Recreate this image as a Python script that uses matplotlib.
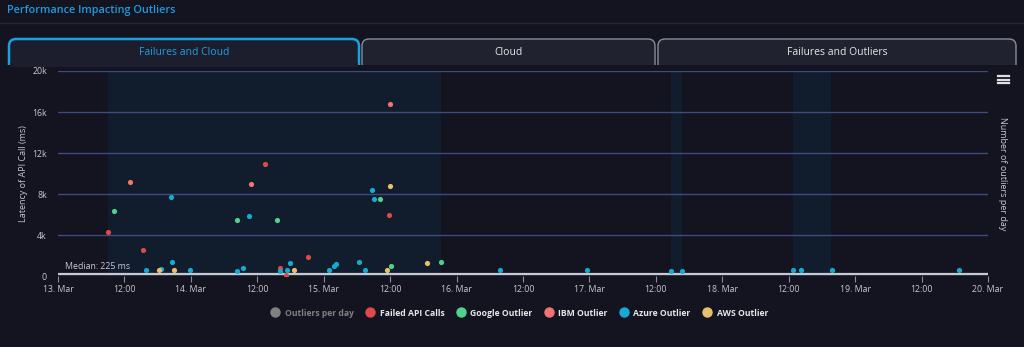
import matplotlib
matplotlib.use("Agg")
import matplotlib.pyplot as plt
import matplotlib.dates as mdates
from matplotlib.patches import FancyBboxPatch
from matplotlib.lines import Line2D
import pandas as pd

plt.rcParams['font.family'] = ['Open Sans', 'DejaVu Sans']

# outlier data (time, latency in ms)
failed_t = ["03-13 09:00", "03-13 15:23", "03-14 13:19", "03-14 16:09", "03-14 17:10",
            "03-14 21:13", "03-15 11:44"]
failed_v = [4290, 2570, 10930, 850, 100, 1880, 6020]

google_t = ["03-13 10:05", "03-14 08:23", "03-14 15:33", "03-15 10:06", "03-15 12:06",
            "03-15 21:16"]
google_v = [6340, 5440, 5500, 7550, 1040, 1370]

ibm_t = ["03-13 13:03", "03-14 10:51", "03-15 11:59"]
ibm_v = [9200, 8950, 16760]

azure_t = ["03-13 15:59", "03-13 18:39", "03-13 20:27", "03-13 20:41", "03-13 23:46",
           "03-14 08:23", "03-14 09:27", "03-14 10:29", "03-14 16:02", "03-14 17:17",
           "03-14 17:53", "03-15 00:53", "03-15 01:55", "03-15 02:17", "03-15 06:19",
           "03-15 07:26", "03-15 08:47", "03-15 09:01", "03-16 07:51", "03-16 23:34",
           "03-17 14:48", "03-17 16:41", "03-18 12:48", "03-18 14:11", "03-18 19:44",
           "03-19 18:45"]
azure_v = [650, 710, 7680, 1430, 590, 520, 780, 5890, 520, 650,
           1300, 650, 1040, 1170, 1370, 590, 8360, 7550, 615, 650,
           490, 560, 590, 590, 650, 590]

aws_t = ["03-13 18:20", "03-13 20:56", "03-14 18:37", "03-15 11:23", "03-15 11:54",
         "03-15 18:36"]
aws_v = [650, 650, 590, 650, 8780, 1300]

band_start = ["03-13 09:00", "03-17 14:40", "03-18 12:50"]
band_end = ["03-15 21:16", "03-17 16:40", "03-18 19:40"]

median_ms = 225
year = "2023-"

def ts(lst):
    return pd.to_datetime([year + s for s in lst])

bg = "#13141f"
fig = plt.figure(figsize=(10.24, 3.47), dpi=100, facecolor=bg)

# decoration layer in pixel coords
deco = fig.add_axes([0, 0, 1, 1])
deco.set_xlim(0, 1024)
deco.set_ylim(347, 0)
deco.axis("off")
deco.set_facecolor(bg)

deco.text(7, 10, "Performance Impacting Outliers", color="#1e9be0", fontsize=7.8,
          fontweight="semibold", va="center", ha="left")
deco.plot([0, 1024], [22.5, 22.5], color="#242636", lw=1)

tabs = [("Failures and Cloud", 8, 360, True),
        ("Cloud", 361, 656, False),
        ("Failures and Outliers", 657, 1017, False)]
for label, x0, x1, active in tabs:
    ec = "#1ba1e2" if active else "#8a8c98"
    fc = "#1c1e2d" if active else "#20222f"
    p = FancyBboxPatch((x0 + 1, 39), x1 - x0 - 2, 34,
                       boxstyle="round,pad=0,rounding_size=7",
                       fc=fc, ec=ec, lw=1.8 if active else 1.0, zorder=1)
    deco.add_patch(p)
    deco.text((x0 + x1) / 2, 52, label, color="#1ba1e2" if active else "#e6e6ea",
              fontsize=7.5, ha="center", va="center", zorder=3)
# cover bottom of the tabs
deco.add_patch(plt.Rectangle((0, 65), 1024, 282, fc=bg, ec="none", zorder=2))
deco.add_patch(plt.Rectangle((10, 63), 348, 4, fc="#1c1e2d", ec="none", zorder=2))

# hamburger icon
for yy in (76, 79.5, 83):
    deco.plot([998, 1009], [yy, yy], color="#e0e0e0", lw=1.6, zorder=3)

# main plot
ax = fig.add_axes([58 / 1024, (347 - 276.3) / 347, 930 / 1024, 205.3 / 347])
ax.set_facecolor(bg)
ax.set_xlim(pd.Timestamp(year + "03-13"), pd.Timestamp(year + "03-20"))
ax.set_ylim(0, 20000)

for s, e in zip(ts(band_start), ts(band_end)):
    ax.axvspan(s, e, color="#111d2d", lw=0, zorder=0)

ax.set_yticks([0, 4000, 8000, 12000, 16000, 20000])
ax.set_yticklabels(["0", "4k", "8k", "12k", "16k", "20k"])
ax.grid(axis="y", color="#3d4b80", lw=1)
ax.set_axisbelow(True)
ax.axhline(median_ms, color="#c8c8d0", lw=1.6, zorder=1)
ax.text(pd.Timestamp(year + "03-13 01:20"), median_ms + 300, "Median: 225 ms",
        color="#c8c8d0", fontsize=6.3, va="bottom", ha="left")

series = [
    ("Failed API Calls", failed_t, failed_v, "#de4a4a"),
    ("Google Outlier", google_t, google_v, "#4fd38c"),
    ("IBM Outlier", ibm_t, ibm_v, "#f07474"),
    ("Azure Outlier", azure_t, azure_v, "#16a9d3"),
    ("AWS Outlier", aws_t, aws_v, "#e8c06c"),
]
handles = [Line2D([], [], marker="o", ls="none", color="#808080", markersize=6.5)]
labels = ["Outliers per day"]
for name, t, v, c in series:
    ax.scatter(ts(t), v, s=14, color=c, zorder=3, lw=0)
    handles.append(Line2D([], [], marker="o", ls="none", color=c, markersize=6.5))
    labels.append(name)

ax.xaxis.set_major_locator(mdates.HourLocator(byhour=[0, 12]))
def fmt(x, pos):
    d = mdates.num2date(x)
    return d.strftime("%H:%M") if d.hour else f"{d.day}. {d.strftime('%b')}"
ax.xaxis.set_major_formatter(plt.FuncFormatter(fmt))
ax.tick_params(axis="x", colors="#8a8c98", labelcolor="#c8c8d0", labelsize=6.3,
               length=4, pad=2)
ax.tick_params(axis="y", length=0, labelcolor="#c8c8d0", labelsize=6.3, pad=8)
for sp in ax.spines.values():
    sp.set_visible(False)

ax.set_ylabel("Latency of API Call (ms)", color="#c8c8d0", fontsize=6.5, labelpad=3)
ax2 = ax.twinx()
ax2.set_yticks([])
for sp in ax2.spines.values():
    sp.set_visible(False)
ax2.set_ylabel("Number of outliers per day", color="#c8c8d0", fontsize=6.5,
               rotation=-90, labelpad=14)

leg = fig.legend(handles, labels, loc="center", bbox_to_anchor=(519 / 1024, 1 - 313 / 347),
                 ncol=6, frameon=False, fontsize=6.2, handletextpad=0.5,
                 columnspacing=1.3, handlelength=1.2)
for i, txt in enumerate(leg.get_texts()):
    txt.set_fontweight("bold")
    txt.set_color("#808080" if i == 0 else "#e6e6ea")

fig.savefig("out.png", dpi=100, facecolor=bg)
